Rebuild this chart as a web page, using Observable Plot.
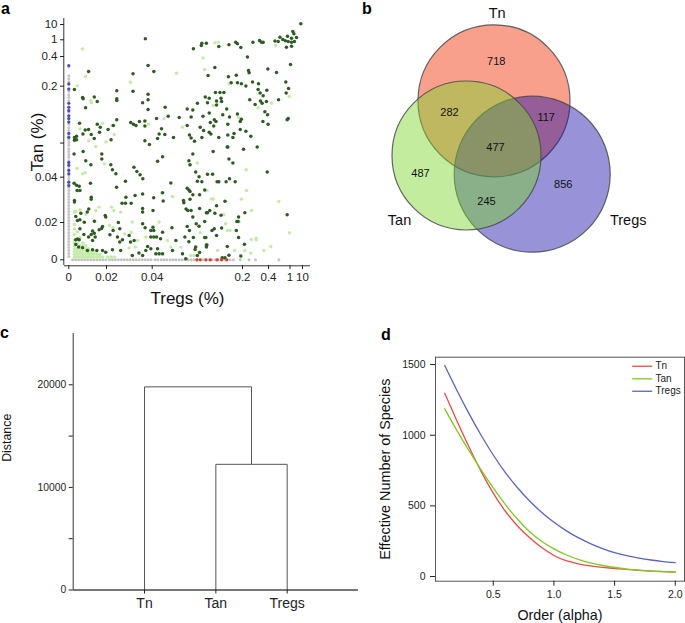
<!DOCTYPE html>
<html><head><meta charset="utf-8">
<script src="https://cdn.jsdelivr.net/npm/d3@7"></script>
<script src="https://cdn.jsdelivr.net/npm/@observablehq/plot@0.6"></script>
<style>
body{margin:0;background:#fff;}
#fig{position:relative;width:685px;height:623px;font-family:"Liberation Sans",Arial,sans-serif;overflow:hidden;background:#fff}
.plab{position:absolute;font-weight:bold;font-size:16px;line-height:18px;color:#000}
</style></head>
<body><div id="fig"></div>
<script>
// ================= DATA =================
// Panel a: clonotype frequencies (Tregs %, Tan %)
const sharedDark = [
[8.8,10.5],[3.0,5.9],[3.8,4.5],[0.72,2.5],[0.93,3.1],[2.1,1.96],[5.7,2.35],[0.58,0.96],[0.67,0.94],[0.8,1.18],[0.87,0.97],[0.95,0.94],[2.1,0.91],[4.2,0.94],[0.9,0.735],[2.1,0.77],[0.113,0.675],[0.127,0.795],[0.128,0.88],[0.136,0.88],[0.158,0.76],[0.176,0.82],[0.188,0.915],[0.191,0.855],[0.197,0.72],[0.28,0.915],[0.331,0.975],[0.346,0.915],[0.359,0.915],
[0.238,0.397],[0.151,0.326],[0.139,0.272],[0.175,0.263],[0.189,0.274],[0.246,0.306],[0.251,0.29],[0.395,0.315],[0.623,0.292],[1.36,0.346],[0.884,0.229],[0.959,0.196],[0.893,0.188],[0.18,0.223],[0.191,0.223],[0.198,0.216],[0.226,0.202],[0.277,0.229],[0.323,0.216],[0.32,0.194],[0.336,0.188],[0.359,0.183],[0.387,0.193],[0.256,0.176],[0.297,0.168],[0.338,0.174],[0.351,0.17],[0.384,0.173],[0.68,0.176],[0.372,0.155],[0.393,0.15],[0.357,0.138],[0.397,0.133],[0.92,0.141],[0.95,0.143],[0.152,0.189],[0.16,0.189],[0.167,0.189],[0.134,0.181],[0.141,0.179],[0.162,0.179],[0.163,0.173],[0.154,0.174],[0.12,0.17],[0.138,0.171],[0.154,0.167],[0.102,0.16],[0.112,0.158],[0.13,0.147],[0.109,0.146],[0.141,0.153],[0.165,0.15],[0.177,0.146],[0.172,0.16],[0.191,0.151],[0.196,0.138],[0.198,0.142],[0.174,0.133],[0.153,0.138],[0.15,0.141],[0.143,0.136],[0.149,0.13],[0.141,0.119],[0.144,0.116],[0.125,0.128],[0.131,0.122],[0.102,0.131],[0.106,0.114],[0.109,0.109],[0.115,0.103],[0.128,0.11],[0.158,0.11],[0.174,0.114],[0.183,0.11],[0.185,0.117],[0.196,0.124],[0.226,0.121],[0.264,0.112],
[0.173,0.093],[0.174,0.093],[0.208,0.089],[0.313,0.093],[0.112,0.081],[0.148,0.085],[0.176,0.072],[0.183,0.065],[0.105,0.069],[0.107,0.062],[0.39,0.049],[0.117,0.049],[0.123,0.041],[0.138,0.045],[0.147,0.045],[0.12,0.0382],[0.128,0.038],[0.155,0.038],[0.158,0.038],[0.171,0.038],[0.177,0.0393],[0.187,0.038],[0.102,0.0351],[0.105,0.0344],[0.107,0.0337],[0.112,0.0323],[0.124,0.0323],[0.133,0.0344],[0.107,0.0303],[0.169,0.0294],[0.154,0.0274],[0.1,0.026],[0.103,0.0253],[0.109,0.0253],[0.124,0.0262],[0.136,0.0243],[0.138,0.0243],[0.142,0.0253],[0.151,0.0241],[0.162,0.0232],[0.193,0.0224],[0.218,0.0243],[0.92,0.0234],[0.19,0.0204],[0.192,0.0204],[0.112,0.0224],[0.118,0.0193],[0.123,0.018],[0.133,0.0204],[0.15,0.0166],[0.146,0.0157],[0.163,0.017],[0.189,0.0157],[0.102,0.0179],[0.106,0.0157],[0.113,0.012],[0.133,0.012],[0.135,0.012],[0.154,0.013],[0.193,0.012],[0.105,0.0097],[0.117,0.0068],[0.136,0.008],[0.136,0.0068],[0.137,0.008],[0.215,0.0084],[0.173,0.0071],[0.116,0.0055],[0.124,0.0039],[0.12,0.0023],[0.176,0.0025],[0.197,0.0021],[0.164,0.0011],[0.169,0.0011],
[0.037,1.57],[0.0382,0.339],[0.0429,0.299],[0.0316,0.283],[0.0105,0.299],[0.003,0.194],[0.0073,0.18],[0.0076,0.178],[0.0135,0.181],[0.0151,0.173],[0.0089,0.162],[0.0245,0.192],[0.0245,0.178],[0.0245,0.175],[0.0316,0.191],[0.0358,0.171],[0.0382,0.186],[0.0382,0.176],[0.0382,0.159],[0.063,0.163],[0.0057,0.135],[0.0151,0.133],[0.0167,0.128],[0.0163,0.119],[0.0087,0.123],[0.0105,0.124],[0.0075,0.116],[0.0119,0.115],[0.0135,0.108],[0.003,0.11],[0.0041,0.112],[0.0041,0.106],[0.003,0.105],[0.0245,0.141],[0.023,0.131],[0.0207,0.124],[0.022,0.106],[0.0306,0.136],[0.0318,0.133],[0.0329,0.131],[0.0344,0.138],[0.0368,0.139],[0.0368,0.13],[0.0368,0.104],[0.0477,0.143],[0.0523,0.116],[0.0565,0.125],[0.0624,0.115],[0.0495,0.108],[0.0683,0.147],[0.0878,0.145],[0.0777,0.11],
[0.0028,0.081],[0.0076,0.085],[0.009,0.069],[0.0117,0.062],[0.0175,0.081],[0.0175,0.072],[0.0226,0.053],[0.0241,0.046],[0.0219,0.062],[0.0283,0.0382],[0.032,0.0576],[0.0333,0.05],[0.0347,0.0442],[0.0359,0.0393],[0.0388,0.0975],[0.0495,0.068],[0.0584,0.076],[0.073,0.0374],[0.0028,0.0373],[0.0041,0.0365],[0.0055,0.036],[0.0044,0.0341],[0.0059,0.0341],[0.0115,0.0373],[0.0119,0.0312],[0.0119,0.0303],[0.003,0.0297],[0.003,0.029],[0.0244,0.0356],[0.0268,0.0285],[0.0283,0.0285],[0.0308,0.0285],[0.0285,0.0312],[0.0325,0.0319],[0.0358,0.0326],[0.0358,0.0262],[0.0358,0.0246],[0.0414,0.0253],[0.0426,0.0309],[0.0584,0.0331],[0.0595,0.0295],[0.0955,0.0297],[0.0961,0.0287],[0.0064,0.0241],[0.0098,0.0246],[0.0106,0.026],[0.0037,0.0226],[0.0046,0.0209],[0.0059,0.0212],[0.0082,0.0201],[0.0136,0.0206],[0.0193,0.0231],[0.0196,0.0224],[0.0179,0.0179],[0.0174,0.0168],[0.0126,0.0154],[0.0135,0.0143],[0.0161,0.0161],[0.0119,0.0136],[0.014,0.0122],[0.0252,0.02],[0.0258,0.0166],[0.0229,0.0157],[0.0215,0.0134],[0.0248,0.0122],[0.027,0.0107],[0.0258,0.0095],[0.0299,0.013],[0.0321,0.0104],[0.0358,0.0193],[0.0369,0.0172],[0.0394,0.0157],[0.0428,0.0157],[0.0413,0.0175],[0.0394,0.0122],[0.0428,0.0122],[0.0477,0.0122],[0.0548,0.0113],[0.0584,0.0148],[0.0749,0.0172],[0.082,0.0104],[0.0979,0.0122],[0.0046,0.0111],[0.0055,0.0107],[0.0037,0.0107],[0.0059,0.0166],[0.008,0.0136],[0.0105,0.0122],[0.0126,0.0104],[0.0126,0.0054],[0.0149,0.005],[0.0179,0.005],[0.0196,0.0041],[0.0037,0.0082],[0.0052,0.0068],[0.0073,0.0064],[0.0099,0.005],[0.0262,0.005],[0.0226,0.0054],[0.0305,0.0095],[0.0313,0.0023],[0.0342,0.0036],[0.0358,0.0023],[0.0372,0.005],[0.038,0.0071],[0.0394,0.0059],[0.0465,0.0032],[0.0495,0.0059],[0.0523,0.0032],[0.0584,0.0032],[0.076,0.005],[0.0937,0.0032],[0.0996,0.0005]
];
const sharedLight = [
[0.151,0.89],[0.157,0.915],[0.595,0.795],[0.13,0.39],[0.133,0.312],[0.176,0.216],[0.32,0.162],[0.484,0.17],[0.977,0.182],[0.193,0.145],[0.148,0.166],
[0.12,0.065],[0.107,0.061],[0.228,0.053],[0.137,0.0341],[0.231,0.0341],[0.145,0.0304],[0.148,0.0304],[0.198,0.0303],[0.69,0.0293],[0.269,0.0253],[0.167,0.0235],[0.194,0.0203],[0.17,0.0193],[0.125,0.0145],[0.173,0.0157],[0.178,0.0157],[0.986,0.0145],[0.267,0.0109],[0.305,0.0116],[0.305,0.0107],[0.218,0.005],[0.186,0.005],[0.156,0.005],[0.465,0.0071],[0.364,0.005],[0.264,0.0036],[0.108,0.0023],[0.114,0.0023],
[0.0073,0.675],[0.0089,0.265],[0.0044,0.202],[0.0305,0.227],[0.083,0.288],[0.0117,0.175],[0.0119,0.171],[0.0179,0.135],[0.0059,0.125],[0.0225,0.131],[0.0234,0.115],[0.0384,0.133],[0.061,0.143],[0.0937,0.128],[0.0105,0.104],[0.0197,0.102],
[0.0143,0.094],[0.0044,0.0553],[0.0073,0.0459],[0.0087,0.0477],[0.0188,0.0635],[0.003,0.0246],[0.0037,0.025],[0.0059,0.0256],[0.009,0.0235],[0.0143,0.0253],[0.0161,0.0268],[0.0222,0.0268],[0.0232,0.0253],[0.0262,0.0246],[0.0313,0.0202],[0.0523,0.0202],[0.0565,0.0331],[0.076,0.0315],[0.0213,0.0184],[0.0228,0.0172],[0.0279,0.0139],[0.0308,0.0148],[0.0299,0.0064],[0.0336,0.0104],[0.0372,0.0122],[0.0327,0.0068],[0.0671,0.0104],[0.073,0.0068],[0.0907,0.0068],
[0.003,0.0015],[0.0045,0.0015],[0.006,0.0015],[0.0075,0.0015],[0.009,0.0015],[0.0105,0.0015],[0.012,0.0015],[0.0135,0.0015],[0.015,0.0015],[0.0165,0.0015],[0.018,0.0015],[0.0205,0.0015],[0.022,0.0015],[0.0235,0.0015],
[0.003,0.003],[0.0045,0.003],[0.006,0.003],[0.0075,0.003],[0.009,0.003],[0.0105,0.003],[0.012,0.003],[0.0135,0.003],[0.015,0.003],[0.0165,0.003],
[0.003,0.0045],[0.0045,0.0045],[0.006,0.0045],[0.0075,0.0045],[0.009,0.0045],[0.0105,0.0045],[0.012,0.0045],[0.0135,0.0045],
[0.003,0.006],[0.0045,0.006],[0.006,0.006],[0.009,0.006],[0.0105,0.006],
[0.003,0.0075],[0.006,0.0075],[0.0075,0.0075],[0.009,0.0075],
[0.003,0.009],[0.0045,0.009],[0.0075,0.009],[0.003,0.0105],[0.006,0.012],[0.003,0.0135],[0.0045,0.015],[0.003,0.0165],[0.003,0.019]
];
const tregsOnlyX = [0.002,0.0036,0.0052,0.0068,0.0084,0.01,0.0116,0.0132,0.0148,0.0164,0.018,0.0196,0.0213,0.0226,0.0239,0.0252,0.0265,0.0278,0.0291,0.0304,0.0317,0.033,0.0343,0.0356,0.0369,0.0382,0.0395,0.045,0.05,0.056,0.061,0.066,0.072,0.077,0.082,0.088,0.093,0.098,0.104,0.109,0.114,0.12,0.125,0.13,0.136,0.141,0.146,0.152,0.157,0.162,0.168,0.173,0.178,0.184,0.196,0.25,0.3,0.69];
const tanOnlyY = [0.33,0.27,0.25,0.23,0.21,0.196,0.191,0.185,0.18,0.175,0.17,0.164,0.159,0.154,0.148,0.143,0.138,0.133,0.127,0.122,0.117,0.112,0.106,0.101,0.096,0.09,0.085,0.08,0.075,0.069,0.064,0.059,0.054,0.048,0.043,0.0394,0.0381,0.0368,0.0355,0.0341,0.0328,0.0315,0.0302,0.0288,0.0275,0.0262,0.0249,0.0235,0.0222,0.0209,0.0195,0.0178,0.0162,0.0146,0.013,0.0114,0.0098,0.0082,0.0066,0.005,0.0034,0.0018];
const tanHighlightY = [0.339,0.216,0.195,0.17,0.163,0.157,0.148,0.143,0.137,0.117,0.11,0.066,0.061,0.052,0.046,0.0378,0.0363];
const tregsHighlightX = [0.119,0.125,0.135,0.143,0.155,0.163,0.172];
const breakTicksA = [0,0.02,0.04,0.2,0.4,1,10];
const yTicksA = [0,0.02,0.04,0.1,0.2,0.4,1,10];

// Panel b: Venn counts
const vennSets = ["Tn","Tan","Tregs"];
const vennRegionNames = ["Tn only","Tn∩Tan","Tn∩Tregs","all","Tan only","Tan∩Tregs","Tregs only"];
const vennCounts = [718,282,117,477,487,245,856];

// Panel c: dendrogram
const leaves = ["Tn","Tan","Tregs"];
const merges = [{a:"Tan", b:"Tregs", height:12250},{a:"Tn", b:"m1", height:19800}];
const distTicks = [0,5000,10000,15000,20000];

// Panel d: diversity profile
const alphaOrder = [0.1,0.2,0.3,0.4,0.5,0.6,0.7,0.8,0.9,1.0,1.1,1.2,1.3,1.4,1.5,1.6,1.7,1.8,1.9,2.0];
const tnDiv = [1297,1102,917,744,590,462,358,275,205,149,112,90,75,65,57,50,44,39,35,31];
const tanDiv = [1186,1034,890,755,627,509,405,317,248,196,154,121,96,78,64,53,45,39,35,31];
const tregsDiv = [1493,1318,1153,1000,860,736,628,534,453,384,325,275,233,198,169,148,131,117,106,98];

// ================= LAYOUT / STYLE =================
const FONT = '"Liberation Sans", Arial, sans-serif';
const fig = document.getElementById("fig");
function place(el, left, top){ el.style.position="absolute"; el.style.left=left+"px"; el.style.top=top+"px"; fig.appendChild(el); }
function letter(t, left, top){ const d=document.createElement("div"); d.className="plab"; d.textContent=t; d.style.left=left+"px"; d.style.top=top+"px"; fig.appendChild(d); }

// ---------- Panel a ----------
const aXRange = [68.3,106,151.7,242,268,289.5,302];
const aYRange = [259.3,222,176.7,85.7,56,39.3,24];
const plotA = Plot.plot({
  width:330, height:310, marginLeft:64, marginTop:18, marginRight:20, marginBottom:45,
  style:{fontFamily:FONT, fontSize:"11.5px", color:"#222", background:"transparent"},
  x:{type:"linear", domain:breakTicksA, range:aXRange},
  y:{type:"linear", domain:breakTicksA, range:aYRange},
  marks:[
    Plot.dot(tregsOnlyX, {x:d=>d, y:()=>0, r:1.5, fill:"#c4c4c4", stroke:null}),
    Plot.dot(tanOnlyY, {x:()=>0, y:d=>d, r:1.5, fill:"#c4c4c4", stroke:null}),
    Plot.dot(sharedLight, {x:d=>d[0], y:d=>d[1], r:1.7, fill:"#c2eba5", stroke:null}),
    Plot.dot(sharedDark, {x:d=>d[0], y:d=>d[1], r:1.75, fill:"#2d5b22", stroke:null}),
    Plot.dot(tanHighlightY, {x:()=>0, y:d=>d, r:1.6, fill:"#4b4bc4", stroke:null}),
    Plot.dot(tregsHighlightX, {x:d=>d, y:()=>0, r:1.6, fill:"#e23a2e", stroke:null}),
    Plot.ruleX([0], {dx:-5, stroke:"#333", strokeWidth:1}),
    Plot.ruleY([0], {dy:6, stroke:"#333", strokeWidth:1}),
    Plot.axisX({ticks:breakTicksA, tickFormat:d=>String(d), tickSize:4, tickPadding:3, label:null, fontSize:11.5}),
    Plot.axisY({ticks:yTicksA, tickFormat:d=>d===0.1?"":String(d), tickSize:4, tickPadding:3, label:null, fontSize:11.5}),
    Plot.text(["Tan (%)"], {frameAnchor:"left", dx:-27, rotate:-90, textAnchor:"middle", lineAnchor:"middle", fontSize:17, fill:"#111"}),
    Plot.text(["Tregs (%)"], {frameAnchor:"bottom", dy:33, textAnchor:"middle", lineAnchor:"middle", fontSize:17, fill:"#111"})
  ]
});
place(plotA, 0, 0);
letter("a", 1, 0);

// ---------- Panel b ----------
const vennCircles = [ // circle geometry in panel pixels
  {set:"Tn", cx:163.5, cy:100.3, r:76, fill:"#f22c00"},
  {set:"Tregs", cx:201.7, cy:173.7, r:78, fill:"#1a0da8"},
  {set:"Tan", cx:136, cy:155, r:74.5, fill:"#7ad52a"}
];
const vennCountPos = [[165.7,61],[119,112.3],[215.7,117.3],[165,146.7],[90,172.7],[156,200.7],[232.7,184]];
const vennSetPos = {Tn:[166.7,13], Tan:[69,220], Tregs:[297.7,220]};
const plotB = Plot.plot({
  width:355, height:300, margin:0,
  style:{fontFamily:FONT, background:"transparent", color:"#111"},
  x:{domain:[0,355], range:[0,355], axis:null},
  y:{domain:[0,300], range:[0,300], axis:null},
  r:{type:"identity"},
  marks:[
    ...vennCircles.map(c => Plot.dot([c], {x:"cx", y:"cy", r:"r", fill:c.fill, fillOpacity:0.45, stroke:"#4a4a4a", strokeOpacity:0.85, strokeWidth:1.2})),
    Plot.text(vennCounts, {x:(d,i)=>vennCountPos[i][0], y:(d,i)=>vennCountPos[i][1], text:d=>String(d), fontSize:11, fill:"#111"}),
    Plot.text(vennSets, {x:d=>vennSetPos[d][0], y:d=>vennSetPos[d][1], text:d=>d, fontSize:14.5, fill:"#111"})
  ]
});
place(plotB, 330, 0);
letter("b", 362, 0);

// ---------- Panel c ----------
const nodes = {};
leaves.forEach((l,i)=> nodes[l] = {x:i+1, h:0});
const segs = [];
merges.forEach((m,k)=>{
  const A = nodes[m.a], B = nodes[m.b];
  segs.push({x1:A.x, y1:A.h, x2:A.x, y2:m.height});
  segs.push({x1:B.x, y1:B.h, x2:B.x, y2:m.height});
  segs.push({x1:A.x, y1:m.height, x2:B.x, y2:m.height});
  nodes["m"+(k+1)] = {x:(A.x+B.x)/2, h:m.height};
});
const plotC = Plot.plot({
  width:360, height:303, marginLeft:72.7, marginRight:2, marginTop:13, marginBottom:33.5,
  style:{fontFamily:FONT, background:"transparent", color:"#222"},
  x:{domain:[0,4]},
  y:{domain:[0,25000]},
  marks:[
    Plot.ruleY([0], {stroke:"#777", strokeWidth:2}),
    Plot.ruleX([0], {stroke:"#333", strokeWidth:1}),
    Plot.link(segs, {x1:"x1", y1:"y1", x2:"x2", y2:"y2", stroke:"#555", strokeWidth:1}),
    Plot.axisY({ticks:distTicks, tickFormat:d=>d%10000===0?String(d):"", tickSize:4, tickPadding:3, label:null, fontSize:10.3}),
    Plot.axisX({ticks:[1,2,3], tickFormat:d=>leaves[d-1], tickSize:4, tickPadding:4, label:null, fontSize:14}),
    Plot.text(["Distance"], {frameAnchor:"left", dx:-66, dy:-24, rotate:-90, textAnchor:"middle", lineAnchor:"middle", fontSize:12.4, fill:"#111"})
  ]
});
place(plotC, 0, 320);
letter("c", 0, 324);

// ---------- Panel d ----------
const series = [
  {name:"Tn", values:tnDiv, color:"#ee4b44"},
  {name:"Tan", values:tanDiv, color:"#7ccb1e"},
  {name:"Tregs", values:tregsDiv, color:"#5a63c6"}
];
const lineRows = series.flatMap(s => alphaOrder.map((a,i)=>({name:s.name, alpha:a, value:s.values[i]})));
const legendLayout = {x1:1.645, x2:1.81, xText:1.837, rows:[1488,1399,1311]};
const plotD = Plot.plot({
  width:325, height:303, marginLeft:75, marginRight:1, marginTop:36.7, marginBottom:42.3,
  style:{fontFamily:FONT, background:"transparent", color:"#222"},
  x:{domain:[0.024,2.076]},
  y:{domain:[-33,1552]},
  marks:[
    Plot.frame({stroke:"#555"}),
    ...series.map(s => Plot.line(lineRows.filter(r=>r.name===s.name), {x:"alpha", y:"value", stroke:s.color, strokeWidth:1.3, curve:"natural"})),
    Plot.link(series, {x1:()=>legendLayout.x1, x2:()=>legendLayout.x2, y1:(d,i)=>legendLayout.rows[i], y2:(d,i)=>legendLayout.rows[i], stroke:d=>d.color, strokeWidth:1.3}),
    Plot.text(series, {x:()=>legendLayout.xText, y:(d,i)=>legendLayout.rows[i], text:"name", textAnchor:"start", fontSize:10, fill:"#222"}),
    Plot.axisY({ticks:[0,500,1000,1500], tickFormat:d=>String(d), tickSize:5, tickPadding:5, label:null, fontSize:10.5}),
    Plot.axisX({ticks:[0.5,1,1.5,2], tickFormat:d3.format(".1f"), tickSize:5, tickPadding:4, label:null, fontSize:10.5}),
    Plot.text(["Order (alpha)"], {frameAnchor:"bottom", dy:34.3, textAnchor:"middle", lineAnchor:"middle", fontSize:14.3, fill:"#111"}),
    Plot.text(["Effective Number of Species"], {frameAnchor:"left", dx:-50, rotate:-90, textAnchor:"middle", lineAnchor:"middle", fontSize:14.4, fill:"#111"})
  ]
});
place(plotD, 360, 320);
letter("d", 381, 326);
</script>
</body></html>
